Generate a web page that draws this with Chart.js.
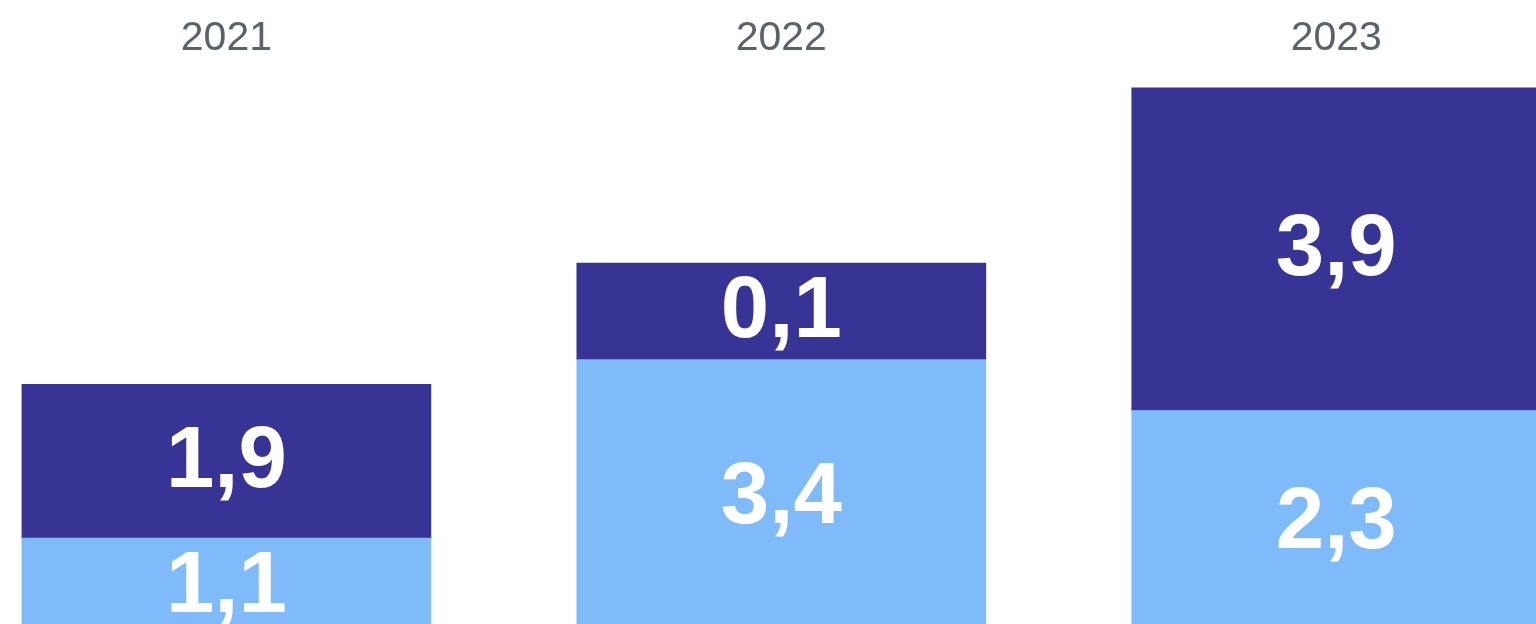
<!DOCTYPE html>
<html>
<head>
<meta charset="utf-8">
<script src="https://cdn.jsdelivr.net/npm/chart.js@4/dist/chart.umd.min.js"></script>
<style>
  html, body { margin: 0; padding: 0; background: #fff; overflow: hidden; }
  /* etwas höher als das Fenster: die Balken laufen unten aus dem Bild */
  #wrap { width: 1536px; height: 634px; }
</style>
</head>
<body>
<div id="wrap"><canvas id="chart"></canvas></div>
<script>
'use strict';

// Jahre und Segmentwerte (Höhen)
const years = ['2021', '2022', '2023'];
const lowerValues = [1.17, 3.35, 2.73];
const upperValues = [1.88, 1.18, 3.94];
// Beschriftungen wie im Bild gedruckt
const lowerLabels = ['1,1', '3,4', '2,3'];
const upperLabels = ['1,9', '0,1', '3,9'];

const lightBlue = '#7fbbf9';
const darkBlue = '#373495';

const toPoints = values => values.map((v, i) => ({ x: i, y: v }));

// Werte-Beschriftungen mittig in die Segmente schreiben
const segmentLabels = {
  id: 'segmentLabels',
  afterDatasetsDraw(chart) {
    const { ctx } = chart;
    ctx.save();
    ctx.fillStyle = '#ffffff';
    ctx.font = 'bold 87px "Liberation Sans", Arial, sans-serif';
    ctx.textAlign = 'center';
    ctx.textBaseline = 'middle';
    chart.data.datasets.forEach((ds, di) => {
      const meta = chart.getDatasetMeta(di);
      meta.data.forEach((bar, i) => {
        ctx.fillText(ds.texts[i], bar.x, (bar.y + bar.base) / 2 + 2);
      });
    });
    ctx.restore();
  },
};

new Chart(document.getElementById('chart'), {
  type: 'bar',
  data: {
    datasets: [
      {
        data: toPoints(lowerValues),
        texts: lowerLabels,
        backgroundColor: lightBlue,
        barThickness: 409,
      },
      {
        data: toPoints(upperValues),
        texts: upperLabels,
        backgroundColor: darkBlue,
        barThickness: 409,
      },
    ],
  },
  options: {
    responsive: true,
    maintainAspectRatio: false,
    animation: false,
    layout: { padding: 0 },
    plugins: {
      legend: { display: false },
      tooltip: { enabled: false },
    },
    scales: {
      x: {
        type: 'linear',
        position: 'top',
        stacked: true,
        min: -0.408,
        max: 2.36,
        offset: false,
        grid: { display: false, drawTicks: false },
        border: { display: false },
        afterBuildTicks: scale => {
          scale.ticks = years.map((_, i) => ({ value: i }));
        },
        ticks: {
          autoSkip: false,
          maxRotation: 0,
          padding: 14,
          color: '#5a626c',
          font: { family: '"Liberation Sans", Arial, sans-serif', size: 41 },
          callback: value => years[value],
        },
      },
      y: {
        display: false,
        stacked: true,
        min: 0,
        max: 6.8,
      },
    },
  },
  plugins: [segmentLabels],
});
</script>
</body>
</html>
